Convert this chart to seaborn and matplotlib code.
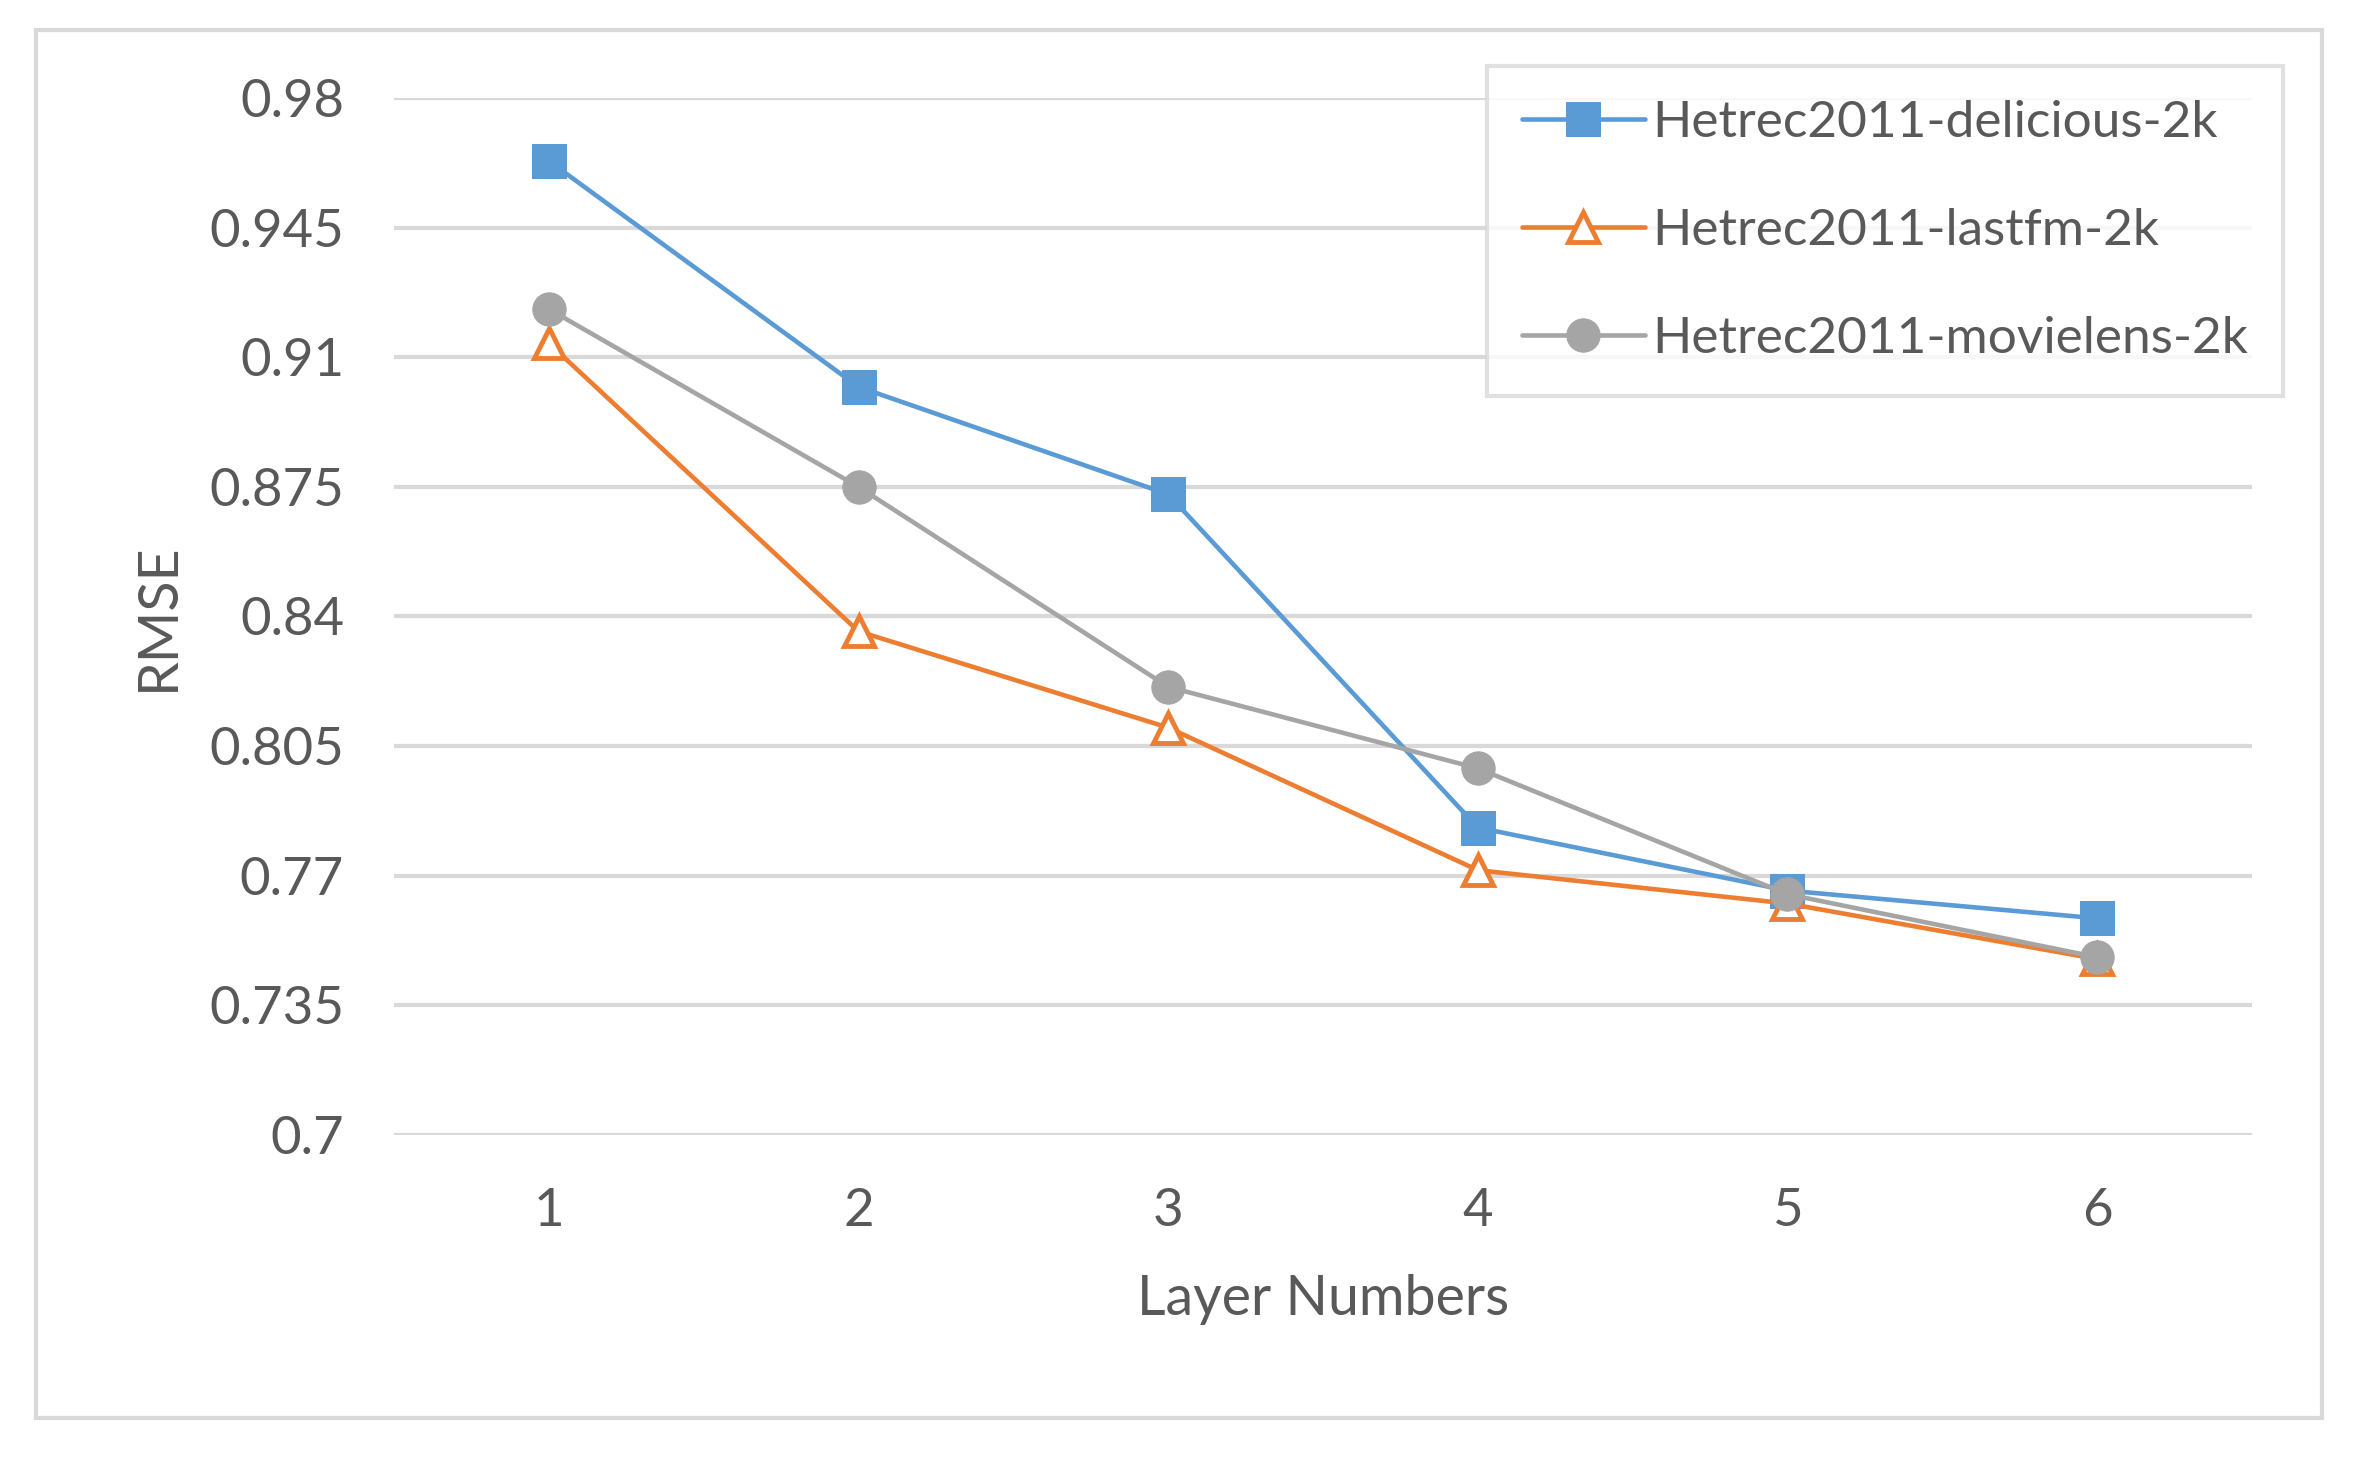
import matplotlib
matplotlib.use("Agg")
import matplotlib.pyplot as plt
import seaborn as sns
import pandas as pd
from matplotlib.patches import Rectangle

# === Data ===
layers = [1, 2, 3, 4, 5, 6]
delicious = [0.963, 0.902, 0.873, 0.783, 0.766, 0.7585]
lastfm = [0.9138, 0.836, 0.810, 0.7715, 0.7625, 0.7475]
movielens = [0.923, 0.875, 0.821, 0.799, 0.765, 0.748]
series_names = ["Hetrec2011-delicious-2k", "Hetrec2011-lastfm-2k", "Hetrec2011-movielens-2k"]
y_ticks = [0.7, 0.735, 0.77, 0.805, 0.84, 0.875, 0.91, 0.945, 0.98]
y_tick_labels = ["0.7", "0.735", "0.77", "0.805", "0.84", "0.875", "0.91", "0.945", "0.98"]

df = pd.DataFrame({"layer": layers, series_names[0]: delicious,
                   series_names[1]: lastfm, series_names[2]: movielens})

sns.set_theme(style="white")
plt.rcParams["font.family"] = ["Lato", "DejaVu Sans"]

W, H = 2360, 1457
fig = plt.figure(figsize=(W / 100, H / 100), dpi=100)
ax = fig.add_axes([394 / W, 1 - 1135 / H, (2252 - 394) / W, (1135 - 98) / H])

# outer chart border
fig.patches.append(Rectangle((36 / W, 1 - 1418 / H), (2322 - 36) / W, (1418 - 30) / H,
                             transform=fig.transFigure, fill=False,
                             edgecolor="#d9d9d9", linewidth=3))

text_col = "#595959"
styles = [
    dict(color="#5B9BD5", marker="s", markersize=24, markerfacecolor="#5B9BD5", markeredgecolor="#5B9BD5"),
    dict(color="#ED7D31", marker="^", markersize=22, markerfacecolor="white", markeredgecolor="#ED7D31",
         markeredgewidth=3.5),
    dict(color="#A5A5A5", marker="o", markersize=24, markerfacecolor="#A5A5A5", markeredgecolor="#A5A5A5"),
]

for name, st in zip(series_names, styles):
    sns.lineplot(data=df, x="layer", y=name, ax=ax, label=name, linewidth=3.3, **st)

# === Axes styling ===
ax.set_xlim(0.5, 6.5)
ax.set_ylim(0.7, 0.98)
ax.set_yticks(y_ticks)
ax.set_yticklabels(y_tick_labels)
ax.set_xticks(layers)
ax.set_xticklabels([str(v) for v in layers])
ax.grid(axis="y", color="#d9d9d9", linewidth=3)
ax.grid(axis="x", visible=False)
for s in ax.spines.values():
    s.set_visible(False)
ax.tick_params(axis="both", length=0, labelsize=38, labelcolor=text_col)
ax.tick_params(axis="y", pad=36)
ax.tick_params(axis="x", pad=38)
ax.set_axisbelow(True)

ax.set_xlabel("Layer Numbers", fontsize=40, color=text_col)
ax.set_ylabel("RMSE", fontsize=40, color=text_col)
ax.xaxis.set_label_coords(0.5, -0.134)
ax.yaxis.set_label_coords(-0.113, 0.5)

# === Legend ===
leg = ax.legend(loc="upper right", bbox_to_anchor=(2283 / W, 1 - 66 / H),
                bbox_transform=fig.transFigure, borderaxespad=0, fontsize=37,
                frameon=True, fancybox=False, edgecolor="#d9d9d9",
                handlelength=2.4, handletextpad=0.15, labelspacing=1.2,
                borderpad=0.67)
leg.get_frame().set_linewidth(3)
for t in leg.get_texts():
    t.set_color(text_col)

fig.savefig("out.png", dpi=100)
